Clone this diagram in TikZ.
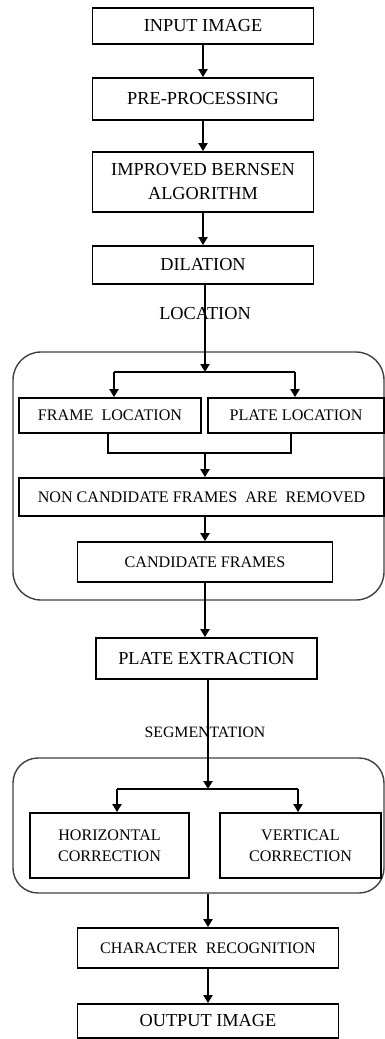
\documentclass[tikz,border=0pt]{standalone}
\usepackage{fontspec}
\setmainfont{Liberation Serif}
\usetikzlibrary{arrows.meta}
\begin{document}
\begin{tikzpicture}[x=1pt,y=-1pt,
  box/.style={draw=black, line width=1.8pt, inner sep=0pt, align=center,
    font=\fontsize{18.3}{24}\selectfont},
  sbox/.style={box, font=\fontsize{16.1}{20.5}\selectfont},
  lbl/.style={inner sep=0pt, font=\fontsize{18.3}{22}\selectfont},
  slbl/.style={inner sep=0pt, font=\fontsize{15.8}{20}\selectfont},
  grp/.style={draw=black!75, line width=1.4pt, inner sep=0pt},
  ln/.style={draw=black, line width=2pt},
  arr/.style={ln, -{Triangle[width=9pt,length=8pt]}}]
\useasboundingbox (0,0) rectangle (385,1039);
% group frames
\node[grp, rounded corners=28pt, minimum width=371pt, minimum height=248pt] (grp1) at (198.5,476) {};
\node[grp, rounded corners=25pt, minimum width=371pt, minimum height=135pt] (grp2) at (198.5,825.5) {};
% boxes
\node[box, minimum width=221pt, minimum height=36pt] (in) at (203,26) {INPUT IMAGE};
\node[box, minimum width=221pt, minimum height=42pt] (pre) at (203,99) {PRE-PROCESSING};
\node[box, minimum width=221pt, minimum height=60pt] (bern) at (203,182) {IMPROVED BERNSEN\\ALGORITHM};
\node[box, minimum width=221pt, minimum height=38pt] (dil) at (203,265) {DILATION};
\node[lbl] (loc) at (205,314) {LOCATION};
\node[sbox, minimum width=182pt, minimum height=35pt] (frame) at (110,415.5) {FRAME\ \ LOCATION};
\node[sbox, minimum width=176pt, minimum height=35pt] (plate) at (296,415.5) {PLATE LOCATION};
\node[sbox, minimum width=365pt, minimum height=38pt] (non) at (201.5,497) {NON CANDIDATE FRAMES\ \ ARE\ \ REMOVED};
\node[sbox, minimum width=255pt, minimum height=40pt] (cand) at (205,562) {CANDIDATE FRAMES};
\node[box, minimum width=221pt, minimum height=41pt] (pex) at (206.5,658.5) {PLATE EXTRACTION};
\node[slbl] (seg) at (205,732) {SEGMENTATION};
\node[sbox, minimum width=159pt, minimum height=65pt] (hor) at (109.5,845.5) {HORIZONTAL\\CORRECTION};
\node[sbox, minimum width=161pt, minimum height=65pt] (ver) at (300.5,845.5) {VERTICAL\\CORRECTION};
\node[sbox, minimum width=261pt, minimum height=40pt] (char) at (208,948) {CHARACTER\ \ RECOGNITION};
\node[box, minimum width=261pt, minimum height=34pt] (out) at (208,1021) {OUTPUT IMAGE};
% connectors
\draw[arr] (in.south) -- (pre.north);
\draw[arr] (pre.south) -- (bern.north);
\draw[arr] (bern.south) -- (dil.north);
\coordinate (b1) at (205,372);
\coordinate (fl) at (114,372);
\coordinate (pl) at (295,372);
\draw[arr] (b1 |- dil.south) -- (b1);
\draw[ln] (fl) -- (pl);
\draw[arr] (fl) -- (fl |- frame.north);
\draw[arr] (pl) -- (pl |- plate.north);
\coordinate (m) at (205,453);
\coordinate (fm) at (108,453);
\coordinate (pm) at (291,453);
\draw[ln] (fm |- frame.south) -- (fm) -- (pm) -- (pm |- plate.south);
\draw[arr] (m) -- (m |- non.north);
\draw[arr] (m |- non.south) -- (m |- cand.north);
\draw[arr] (cand.south) -- (cand.south |- pex.north);
\coordinate (b2) at (208,789);
\coordinate (hl) at (117,789);
\coordinate (vl) at (298,789);
\draw[arr] (b2 |- pex.south) -- (b2);
\draw[ln] (hl) -- (vl);
\draw[arr] (hl) -- (hl |- hor.north);
\draw[arr] (vl) -- (vl |- ver.north);
\draw[arr] (b2 |- grp2.south) -- (b2 |- char.north);
\draw[arr] (char.south) -- (out.north);
\end{tikzpicture}
\end{document}
